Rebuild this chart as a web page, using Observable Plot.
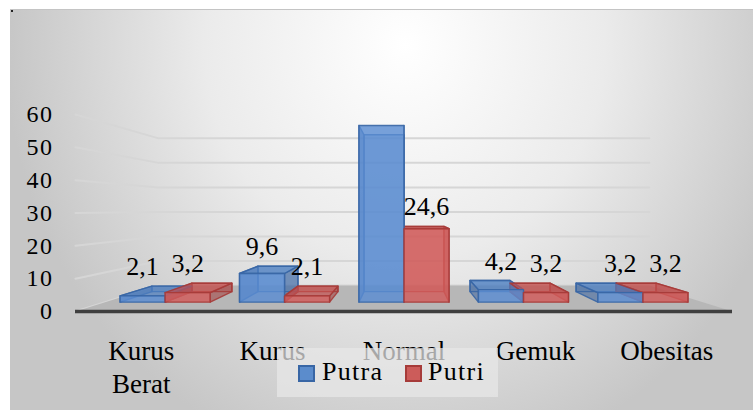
<!DOCTYPE html>
<html><head><meta charset="utf-8">
<script src="https://cdn.jsdelivr.net/npm/d3@7"></script>
<script src="https://cdn.jsdelivr.net/npm/@observablehq/plot@0.6"></script>
<style>
html,body{margin:0;padding:0;background:#fff;}
#wrap{position:relative;width:753px;height:410px;overflow:hidden;font-family:"Liberation Serif",serif;}
#bg{position:absolute;left:10px;top:9px;width:743px;height:401px;border-top:1px solid #c4c4c4;
  background:radial-gradient(ellipse 400px 430px at 395px 35px,#ffffff 0%,#ebebeb 50%,#c6c6c6 100%);}
#dot{position:absolute;left:11px;top:10px;width:2px;height:2px;background:#222;}
#chart{position:absolute;left:0;top:0;}
#chart svg{background:transparent;overflow:visible;}
g[aria-label="y-axis tick label"] text{letter-spacing:1.5px;}
g[aria-label="category"] text{letter-spacing:1.8px;}
#legend{position:absolute;left:277px;top:348px;width:221px;height:49px;background:rgba(232,232,232,0.72);}
.sw{position:absolute;top:17px;width:17px;height:17px;box-sizing:border-box;border:2px solid;}
.lt{position:absolute;top:11px;font-size:26px;line-height:26px;letter-spacing:1.3px;color:#000;white-space:nowrap;}
</style></head>
<body>
<div id="wrap">
  <div id="bg"></div>
  <div id="dot"></div>
  <div id="chart"></div>
  <div id="legend"></div>
</div>
<script>
// ---- data ----
const categories = ["Kurus Berat", "Kurus", "Normal", "Gemuk", "Obesitas"];
const seriesNames = ["Putra", "Putri"];
const putra = [2.1, 9.6, 59.2, 4.2, 3.2];
const putri = [3.2, 2.1, 24.6, 3.2, 3.2];
const putraLabelShown = [true, true, false, true, true];
const putriLabelShown = [true, true, true, true, true];
const yTicks = [0, 10, 20, 30, 40, 50, 60];

// ---- styling ----
const faceFill = {
  Putra: {front: "#5a8cd2", top: "#4f80c3", side: "#3d64a0", back: "#4f81bd"},
  Putri: {front: "#d25c5a", top: "#c4504e", side: "#a23e3c", back: "#c0504d"}
};
const faceStroke = {Putra: "#3866a5", Putri: "#a63b39"};
const swatchFill = {Putra: "#5b8ccc", Putri: "#cc5c5a"};

// ---- 3D perspective helpers (scale-space units) ----
const U_C = 2.5, V_V = 31.3;              // vanishing point
const S_WALL = 0.747, S_FRONT = 0.909, S_BACK = 0.807, BAR_W = 0.377;
const proj = (u, v, s) => ({x: U_C + (u - U_C) * s, y: V_V + (v - V_V) * s});

const backF = [], sideF = [], topF = [], frontF = [], labels = [];
categories.forEach((cat, i) => {
  [putra[i], putri[i]].forEach((v, j) => {
    const series = seriesNames[j];
    const c = i + 0.5;
    const u0 = j === 0 ? c - BAR_W : c;
    const u1 = j === 0 ? c : c + BAR_W;
    const add = (arr, kind, pts) => {
      const id = `${cat}|${series}|${kind}`;
      pts.forEach(([u, vv, s]) => arr.push({id, series, kind, ...proj(u, vv, s)}));
    };
    add(backF, "back", [[u0,0,S_BACK],[u1,0,S_BACK],[u1,v,S_BACK],[u0,v,S_BACK]]);
    add(sideF, "side", [[u0,0,S_FRONT],[u0,0,S_BACK],[u0,v,S_BACK],[u0,v,S_FRONT]]);
    add(sideF, "side2", [[u1,0,S_FRONT],[u1,0,S_BACK],[u1,v,S_BACK],[u1,v,S_FRONT]]);
    if (v < V_V) add(topF, "top", [[u0,v,S_FRONT],[u1,v,S_FRONT],[u1,v,S_BACK],[u0,v,S_BACK]]);
    add(frontF, "front", [[u0,0,S_FRONT],[u1,0,S_FRONT],[u1,v,S_FRONT],[u0,v,S_FRONT]]);
    const shown = j === 0 ? putraLabelShown[i] : putriLabelShown[i];
    if (shown) labels.push({
      x: proj((u0 + u1) / 2, v, S_FRONT).x,
      y: proj((u0 + u1) / 2, v, S_BACK).y,
      text: String(v).replace(".", ",")
    });
  });
});

// gridlines: left side wall + back wall
const grid = [];
yTicks.forEach(t => {
  [proj(0, t, 1), proj(0, t, S_WALL), proj(5, t, S_WALL)].forEach(p => grid.push({t, ...p}));
});
// floor
const floor = [proj(0,0,1), proj(5,0,1), proj(5,0,S_WALL), proj(0,0,S_WALL)];

const faceMark = (data, kind, opacity) => Plot.line(data, {
  x: "x", y: "y", z: "id", curve: "linear-closed",
  fill: d => faceFill[d.series][kind], fillOpacity: opacity,
  stroke: d => faceStroke[d.series], strokeWidth: 1.4, strokeOpacity: 0.9
});

const chart = Plot.plot({
  width: 753, height: 410,
  marginLeft: 75, marginRight: 21, marginTop: 114, marginBottom: 99,
  x: {domain: [0, 5], axis: null},
  y: {domain: [0, 60]},
  color: {type: "identity"},
  style: {fontFamily: "Liberation Serif, serif", color: "#000", background: "transparent"},
  marks: [
    Plot.line(grid, {x: "x", y: "y", z: "t", stroke: "#d6d6d6", strokeWidth: 2}),
    Plot.line(floor, {x: "x", y: "y", curve: "linear-closed", fill: "#b7b7b7", stroke: "none"}),
    Plot.ruleY([0], {stroke: "#3f3f3f", strokeWidth: 3.5}),
    faceMark(backF, "back", 0.35),
    faceMark(sideF, "side", 0.55),
    faceMark(topF, "top", 0.7),
    faceMark(frontF, "front", 0.82),
    Plot.axisY(yTicks, {tickSize: 0, tickPadding: 22, fontSize: 24, fill: "#000", label: null}),
    Plot.text(categories, {
      x: (d, i) => i + 0.5, frameAnchor: "bottom", lineAnchor: "top", dy: 25,
      text: d => d.replace(" ", "\n"), fontSize: 27, lineHeight: 1.22, fill: "#000",
      ariaLabel: "category"
    }),
    Plot.text(labels, {x: "x", y: "y", text: "text", lineAnchor: "bottom", dy: -11, fontSize: 26, fill: "#000"})
  ]
});
document.getElementById("chart").appendChild(chart);

// legend
const legend = document.getElementById("legend");
const legendPos = [{sw: 21, tx: 45}, {sw: 128, tx: 151}];
seriesNames.forEach((name, k) => {
  const sw = document.createElement("div");
  sw.className = "sw";
  sw.style.left = legendPos[k].sw + "px";
  sw.style.background = swatchFill[name];
  sw.style.borderColor = faceStroke[name];
  legend.appendChild(sw);
  const t = document.createElement("div");
  t.className = "lt";
  t.style.left = legendPos[k].tx + "px";
  t.textContent = name;
  legend.appendChild(t);
});
</script>
</body></html>
